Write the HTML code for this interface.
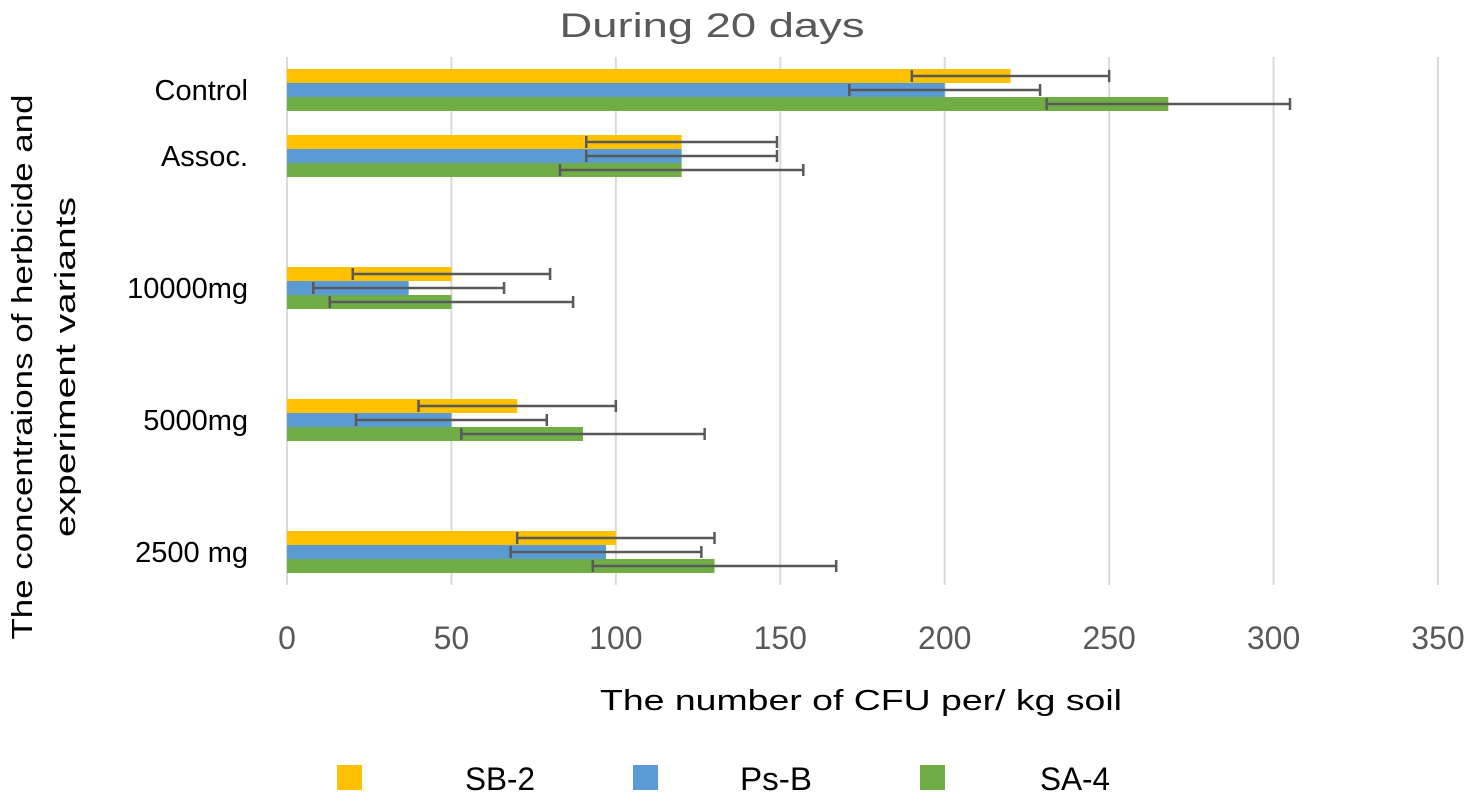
<!DOCTYPE html>
<html><head><meta charset="utf-8"><style>
html,body{margin:0;padding:0;background:#fff;}
svg{display:block;font-family:"Liberation Sans",sans-serif;}
</style></head><body>
<svg id="chart" width="1471" height="792">
<text x="712" y="37" text-anchor="middle" font-size="34" fill="#595959" textLength="305" lengthAdjust="spacingAndGlyphs">During 20 days</text>
<g id="grid"></g>
<g id="bars"></g>
<g id="yl"></g>
<g id="xl"></g>
<text x="861" y="710" text-anchor="middle" font-size="29" fill="#000" textLength="522" lengthAdjust="spacingAndGlyphs">The number of CFU per/ kg soil</text>
<g transform="translate(0,367) rotate(-90)">
<text x="0" y="32" text-anchor="middle" font-size="29" fill="#000" textLength="545" lengthAdjust="spacingAndGlyphs">The concentraions of herbicide and</text>
<text x="0" y="75" text-anchor="middle" font-size="29" fill="#000" textLength="340" lengthAdjust="spacingAndGlyphs">experiment  variants</text>
</g>
<g>
<rect x="337" y="765" width="25" height="25" fill="#FFC000"/>
<text x="465" y="790" font-size="32" fill="#000" textLength="70" lengthAdjust="spacingAndGlyphs">SB-2</text>
<rect x="633" y="765" width="25" height="25" fill="#5B9BD5"/>
<text x="740" y="790" font-size="32" fill="#000" textLength="72" lengthAdjust="spacingAndGlyphs">Ps-B</text>
<rect x="920" y="765" width="25" height="25" fill="#70AD47"/>
<text x="1040" y="790" font-size="32" fill="#000" textLength="70" lengthAdjust="spacingAndGlyphs">SA-4</text>
</g>
</svg>
<script>
const categories=["Control","Assoc.","","10000mg","","5000mg","","2500 mg"];
const sb2=[220,120,null,50,null,70,null,100];
const sb2Err=[30,29,null,30,null,30,null,30];
const psb=[200,120,null,37,null,50,null,97];
const psbErr=[29,29,null,29,null,29,null,29];
const sa4=[268,120,null,50,null,90,null,130];
const sa4Err=[37,37,null,37,null,37,null,37];
const xTicks=[0,50,100,150,200,250,300,350];
const NS="http://www.w3.org/2000/svg";
const x0=287,x1=1438,xmax=350,plotTop=57,band=66;
const X=v=>x0+(x1-x0)*v/xmax;
const Y=i=>plotTop+band*i;
function mk(tag,attrs,parent){const e=document.createElementNS(NS,tag);for(const k in attrs)e.setAttribute(k,attrs[k]);parent.appendChild(e);return e;}
const grid=document.getElementById('grid'),bars=document.getElementById('bars'),yl=document.getElementById('yl'),xl=document.getElementById('xl');
xTicks.forEach(t=>{
 if(t>0){const l=mk('line',{x1:X(t),x2:X(t),y1:plotTop,y2:plotTop+band*categories.length,stroke:'#D9D9D9','stroke-width':2},grid);
 
 }
 const tx=mk('text',{x:X(t),y:649,'text-anchor':'middle','font-size':32,fill:'#595959'},xl);
 tx.textContent=t;
 
 
});
mk('line',{x1:x0,x2:x0,y1:plotTop,y2:plotTop+band*categories.length,stroke:'#D9D9D9','stroke-width':2},grid);
const series=[[sb2,sb2Err,'#FFC000','sb2'],[psb,psbErr,'#5B9BD5','psb'],[sa4,sa4Err,'#70AD47','sa4']];
categories.forEach((c,i)=>{
 if(c){const t=mk('text',{x:248,y:Y(i)+band/2+10,'text-anchor':'end','font-size':29,fill:'#000'},yl);
 t.textContent=c;
 
 }
 series.forEach((s,j)=>{
  const v=s[0][i];if(v==null)return;
  const by=Y(i)+12+j*14;
  const r=mk('rect',{x:x0,y:by,width:X(v)-x0,height:14,fill:s[2]},bars);
  
  
  const e=s[1][i],cy=by+7,a=X(v-e),b=X(v+e);
  const g=mk('g',{stroke:'#595959','stroke-width':2.5},bars);
  
  
  mk('line',{x1:a,x2:b,y1:cy,y2:cy},g);
  mk('line',{x1:a,x2:a,y1:cy-6,y2:cy+6},g);
  mk('line',{x1:b,x2:b,y1:cy-6,y2:cy+6},g);
 });
});
</script>
</body></html>
